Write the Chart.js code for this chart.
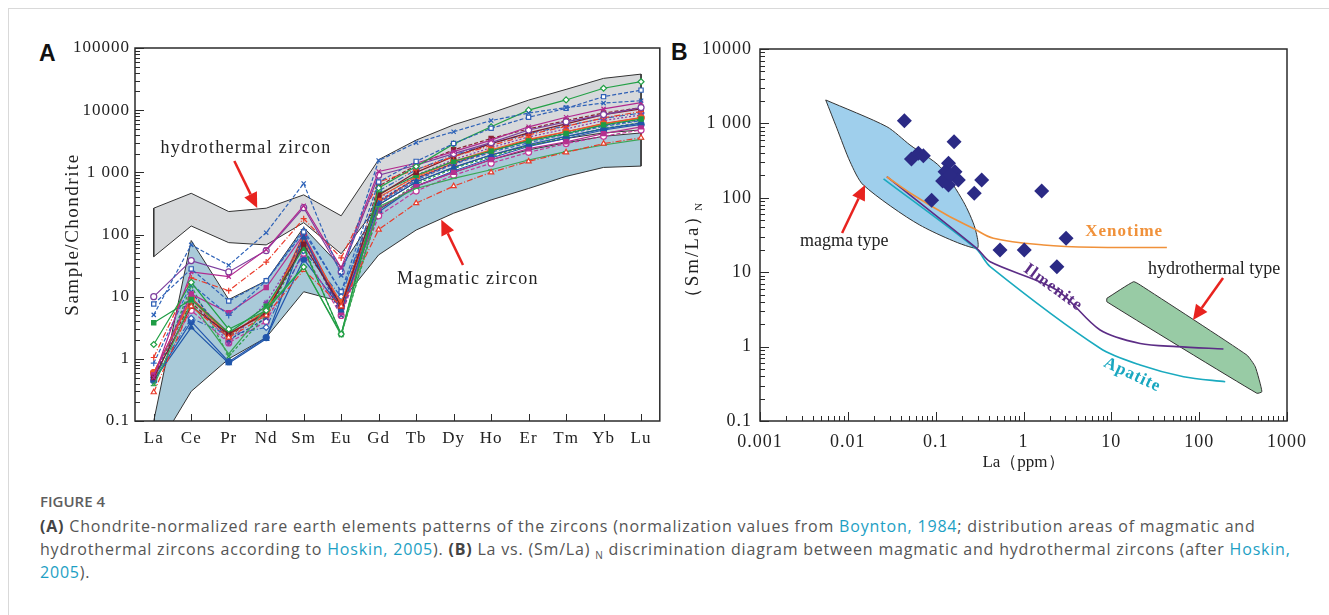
<!DOCTYPE html>
<html>
<head>
<meta charset="utf-8">
<script src="https://cdn.jsdelivr.net/npm/chart.js@4.4.1/dist/chart.umd.min.js"></script>
<style>
  body { margin: 0; width: 1329px; height: 615px; background: #fff; position: relative; overflow: hidden; }
  #frame { position: absolute; left: 8px; top: 8px; right: -2px; bottom: -2px; border-top: 1px solid #d9d9d9; border-left: 1px solid #d9d9d9; }
  #chartA { position: absolute; left: 20px; top: 30px; }
  #chartB { position: absolute; left: 665px; top: 30px; }
  .panel { position: absolute; font-family: 'Liberation Sans', Arial, sans-serif; font-weight: bold; font-size: 23px; color: #111; }
  #caption { position: absolute; left: 40px; top: 491px; font-family: 'Open Sans', sans-serif; color: #555; white-space: nowrap; }
  #caption .fig { font-size: 15px; font-weight: 600; color: #5e5e5e; margin-bottom: 4px; }
  #caption p { margin: 0; font-size: 16px; line-height: 23px; letter-spacing: 0.8px; }
  #caption b { color: #444; }
  #caption a { color: #1d9fc4; text-decoration: none; }
  #caption sub { font-size: 10px; vertical-align: baseline; position: relative; top: 4px; line-height: 0; }
</style>
</head>
<body>
<div id="frame"></div>
<div class="panel" style="left:39px; top:40px;">A</div>
<div class="panel" style="left:671px; top:39px;">B</div>
<canvas id="chartA" width="645" height="440"></canvas>
<canvas id="chartB" width="650" height="445"></canvas>
<div id="caption">
  <div class="fig">FIGURE 4</div>
  <p><b>(A)</b> Chondrite-normalized rare earth elements patterns of the zircons (normalization values from <a>Boynton, 1984</a>; distribution areas of magmatic and<br>hydrothermal zircons according to <a>Hoskin, 2005</a>). <b>(B)</b> La vs. (Sm/La) <sub>N</sub> discrimination diagram between magmatic and hydrothermal zircons (after <a>Hoskin,</a><br><a>2005</a>).</p>
</div>
<script>
'use strict';

// ---- panel A data (chondrite normalized REE) ----
const elements = ['La', 'Ce', 'Pr', 'Nd', 'Sm', 'Eu', 'Gd', 'Tb', 'Dy', 'Ho', 'Er', 'Tm', 'Yb', 'Lu'];

const hydroUpper = [265, 460, 234, 265, 434, 200, 1600, 3300, 5800, 9000, 14500, 21600, 32500, 38000];
const hydroLower = [44, 137, 74, 68, 155, 49, 300, 700, 1200, 1900, 2700, 3500, 4300, 4800];
const magmaUpper = [0.1, 80, 9, 18, 130, 30, 250, 600, 1000, 1600, 2300, 3000, 3800, 4300];
const magmaLower = [0.03, 0.3, 1.0, 2.2, 12, 8.3, 47, 118, 220, 360, 550, 860, 1200, 1260];

const zr01 = [5.1, 68, 32, 107, 660, 22, 1550, 3000, 4500, 6800, 9000, 11000, 13000, 14200];
const zr02 = [7.6, 28, 8.5, 18, 110, 12, 700, 1500, 2900, 5100, 7700, 10700, 16500, 21000];
const zr03 = [1.7, 17, 3, 6, 30, 2.5, 560, 1240, 2870, 5400, 10000, 14600, 22500, 28700];
const zr04 = [0.5, 25, 21, 57, 290, 29, 1030, 1400, 2150, 3300, 5400, 7700, 10500, 13200];
const zr05 = [10, 38, 25, 55, 270, 25, 900, 1300, 2000, 3000, 4800, 6500, 8500, 11000];
const zr06 = [1.05, 20, 12.5, 36, 180, 42, 700, 1100, 1800, 2700, 4000, 5500, 7500, 9500];
const zr07 = [0.29, 7, 2.2, 5, 27, 7, 120, 320, 600, 1000, 1500, 2100, 2900, 3600];
const zr08 = [0.37, 8, 1.2, 6.5, 30, 2.4, 280, 550, 800, 1100, 1580, 2150, 2750, 3400];
const zr09 = [0.5, 7, 2.5, 5.5, 70, 7, 430, 1000, 1800, 2900, 4300, 6000, 8500, 10500];
const zr10 = [3.8, 9, 2.6, 7, 60, 2.5, 450, 900, 1500, 2200, 3200, 4200, 5800, 7200];
const zr11 = [0.45, 3.2, 0.85, 2.1, 90, 6, 300, 700, 1200, 1900, 2800, 3800, 5000, 6200];
const zr12 = [0.85, 16, 5, 18, 120, 12, 320, 750, 1350, 2100, 3000, 4100, 5500, 6800];
const zr13 = [0.55, 11, 5.5, 14, 100, 5.5, 260, 600, 1000, 1600, 2400, 3100, 4200, 5400];
const zr14 = [0.6, 9, 2.4, 6, 80, 8, 400, 850, 1500, 2300, 3400, 4500, 6000, 7500];
const zr15 = [0.5, 12, 2, 4.5, 95, 5, 350, 800, 1400, 2200, 3200, 4300, 5700, 7000];
const zr16 = [0.4, 15, 1.1, 5, 65, 2.4, 250, 650, 1150, 1800, 2700, 3700, 5100, 6300];
const zr17 = [0.45, 10, 1.8, 8, 75, 7.5, 380, 900, 1600, 2500, 3700, 5000, 6800, 8400];
const zr18 = [0.5, 4.5, 2.4, 3.2, 55, 10, 500, 1100, 1900, 2900, 4200, 5600, 7400, 9000];
const zr19 = [0.55, 6, 1.8, 4, 50, 5, 200, 500, 900, 1400, 2100, 2900, 3800, 4800];
const zr20 = [0.6, 8, 2.3, 6, 85, 7, 600, 1300, 2300, 3500, 5000, 6800, 9000, 11000];
const zr21 = [0.6, 9.5, 2.6, 5.2, 100, 7, 330, 800, 1400, 2200, 3300, 4500, 6100, 7600];
const zr22 = [0.45, 4, 0.9, 2.2, 40, 6.5, 230, 600, 1050, 1700, 2600, 3500, 4800, 5900];

const samples = [zr01, zr02, zr03, zr04, zr05, zr06, zr07, zr08, zr09, zr10, zr11,
  zr12, zr13, zr14, zr15, zr16, zr17, zr18, zr19, zr20, zr21, zr22];

const yTickValsA = [0.1, 1, 10, 100, 1000, 10000, 100000];
const yTickLabelsA = ['0.1', '1', '10', '100', '1 000', '10000', '100000'];

// ---- panel B data ----
const zirconLa = [0.044, 0.162, 0.053, 0.0636, 0.0724, 0.14, 0.128, 0.166, 0.12, 0.14, 0.181, 0.334, 0.275, 0.09, 1.61, 3.05, 0.54, 1.02, 2.4, 0.146];
const zirconSmLa = [1088, 568, 333, 398, 368, 291, 224, 224, 168, 149, 173, 173, 115, 93, 123, 28.5, 19.9, 19.9, 11.8, 202];

const magmaLa = [0.0056, 0.0278, 0.051, 0.112, 0.207, 0.281, 0.294, 0.066, 0.015, 0.0106, 0.0075, 0.0056];
const magmaSmLa = [2065, 903, 513, 262, 88.7, 38.9, 20.9, 43, 148.6, 305, 860, 2065];

const hydroLa = [8.9, 17.9, 21.3, 349, 435, 518, 454, 8.9, 8.9];
const hydroSmLa = [4.46, 7.45, 6.73, 0.77, 0.537, 0.248, 0.236, 4.0, 4.46];

const xenotimeLa = [0.0278, 0.0557, 0.134, 0.267, 0.454, 1.69, 6.25, 42.9];
const xenotimeSmLa = [192, 109, 58.7, 38.9, 28.6, 23.2, 21.6, 21.5];

const ilmeniteLa = [0.0278, 0.294, 0.417, 2.39, 7.45, 21.3, 55.7, 189];
const ilmeniteSmLa = [192, 20.9, 13.8, 5.77, 1.67, 1.1, 1.0, 0.93];

const apatiteLa = [0.0255, 0.29, 0.417, 7.45, 21.3, 66.4, 198];
const apatiteSmLa = [180, 20.5, 11.9, 0.95, 0.566, 0.394, 0.337];

const yTickValsB = [0.1, 1, 10, 100, 1000, 10000];
const yTickLabelsB = ['0.1', '1', '10', '100', '1 000', '10000'];
const xTickValsB = [0.001, 0.01, 0.1, 1, 10, 100, 1000];
const xTickLabelsB = ['0.001', '0.01', '0.1', '1', '10', '100', '1000'];

// ---- styles ----
const serif = "'Liberation Serif', 'Times New Roman', serif";
const axisColor = '#2b2b2b';
const arrowRed = '#e8231f';

const sampleStyles = [
  {color: '#2d62b8', dash: [4, 2], marker: 'crossRot', open: false},
  {color: '#2f5fb5', dash: [4, 2], marker: 'rect', open: true},
  {color: '#23a046', dash: [], marker: 'rectRot', open: true},
  {color: '#b2298f', dash: [], marker: 'crossRot', open: false},
  {color: '#7d3f9e', dash: [], marker: 'circle', open: true},
  {color: '#ea3b2b', dash: [6, 2, 1, 2], marker: 'cross', open: false},
  {color: '#ea3b2b', dash: [6, 2, 1, 2], marker: 'triangle', open: true},
  {color: '#3aa655', dash: [], marker: 'line', open: false},
  {color: '#7b1c2e', dash: [], marker: 'rect', open: false},
  {color: '#1f9c45', dash: [], marker: 'rect', open: false},
  {color: '#1f56a8', dash: [], marker: 'triangle', open: false},
  {color: '#3066c0', dash: [4, 2], marker: 'cross', open: false},
  {color: '#b5308f', dash: [], marker: 'rect', open: false},
  {color: '#f15a24', dash: [], marker: 'circle', open: false},
  {color: '#2a4b9b', dash: [3, 2], marker: 'crossRot', open: false},
  {color: '#2aa048', dash: [3, 2], marker: 'crossRot', open: false},
  {color: '#8a3aa8', dash: [2, 2], marker: 'star', open: false},
  {color: '#2f64b8', dash: [6, 2, 1, 2], marker: 'rectRot', open: true},
  {color: '#c0399a', dash: [4, 2], marker: 'circle', open: true},
  {color: '#8b2233', dash: [4, 2], marker: 'rect', open: false},
  {color: '#e2332a', dash: [], marker: 'circle', open: false},
  {color: '#2356ae', dash: [], marker: 'circle', open: false}
];

const notesA = [
  {text: 'hydrothermal zircon', x: 2.46, y: 2440},
  {text: 'Magmatic zircon', x: 8.38, y: 19.1}
];
const arrowsA = [
  {x0: 2.15, y0: 1524, x1: 2.76, y1: 268},
  {x0: 8.25, y0: 32.4, x1: 7.67, y1: 172}
];

const notesB = [
  {text: 'magma type', x: 0.0091, y: 26.3, color: '#222', bold: false, rot: 0},
  {text: 'hydrothermal type', x: 148, y: 11, color: '#222', bold: false, rot: 0},
  {text: 'Xenotime', x: 14, y: 34.7, color: '#f0913a', bold: true, rot: 0},
  {text: 'Ilmenite', x: 2.17, y: 6.2, color: '#5c2d86', bold: true, rot: 36},
  {text: 'Apatite', x: 17.3, y: 0.416, color: '#19a7c0', bold: true, rot: 25}
];
const arrowsB = [
  {x0: 0.0086, y0: 33.6, x1: 0.0157, y1: 148.6},
  {x0: 187, y0: 8.36, x1: 85, y1: 2.27}
];

// ---- helpers ----
function logTicks(scale) {
  const list = [];
  const lo = Math.round(Math.log10(scale.min));
  const hi = Math.round(Math.log10(scale.max));
  for (let e = lo; e < hi; e++) {
    for (let m = 1; m < 10; m++) {
      list.push({value: m * Math.pow(10, e)});
    }
  }
  list.push({value: Math.pow(10, hi)});
  scale.ticks = list;
}

function tickLabel(vals, labels) {
  return function (value) {
    const i = vals.findIndex(v => Math.abs(v / value - 1) < 1e-6);
    return i >= 0 ? labels[i] : '';
  };
}

function isMajor(v) {
  const l = Math.log10(v);
  return Math.abs(l - Math.round(l)) < 1e-6;
}

function drawBox(ctx, a) {
  ctx.strokeStyle = axisColor;
  ctx.lineWidth = 1.5;
  ctx.strokeRect(a.left, a.top, a.right - a.left, a.bottom - a.top);
}

function drawLogTicks(ctx, scale, a, horizontal) {
  ctx.strokeStyle = axisColor;
  ctx.lineWidth = 1;
  ctx.beginPath();
  for (const t of scale.ticks) {
    const p = Math.round(scale.getPixelForValue(t.value)) + 0.5;
    const len = isMajor(t.value) ? 9 : 5;
    if (horizontal) {
      ctx.moveTo(p, a.bottom);
      ctx.lineTo(p, a.bottom - len);
    } else {
      ctx.moveTo(a.left, p);
      ctx.lineTo(a.left + len, p);
    }
  }
  ctx.stroke();
}

function drawArrow(ctx, x0, y0, x1, y1) {
  const ang = Math.atan2(y1 - y0, x1 - x0);
  const head = 15, half = 7;
  const bx = x1 - head * Math.cos(ang);
  const by = y1 - head * Math.sin(ang);
  ctx.strokeStyle = arrowRed;
  ctx.fillStyle = arrowRed;
  ctx.lineWidth = 2.5;
  ctx.beginPath();
  ctx.moveTo(x0, y0);
  ctx.lineTo(bx, by);
  ctx.stroke();
  ctx.beginPath();
  ctx.moveTo(x1, y1);
  ctx.lineTo(bx + half * Math.sin(ang), by - half * Math.cos(ang));
  ctx.lineTo(bx - half * Math.sin(ang), by + half * Math.cos(ang));
  ctx.closePath();
  ctx.fill();
}

// ---- panel A ----
const decorA = {
  id: 'decorA',
  beforeDraw(chart) {
    chart.ctx.letterSpacing = '1px';
  },
  afterDraw(chart) {
    const {ctx, chartArea: a, scales} = chart;
    ctx.save();
    drawBox(ctx, a);
    drawLogTicks(ctx, scales.y, a, false);
    ctx.beginPath();
    elements.forEach((el, i) => {
      const x = Math.round(scales.x.getPixelForValue(i)) + 0.5;
      ctx.moveTo(x, a.bottom);
      ctx.lineTo(x, a.bottom - 7);
    });
    ctx.stroke();

    ctx.fillStyle = '#222';
    ctx.textAlign = 'center';
    ctx.textBaseline = 'middle';
    ctx.letterSpacing = '1.3px';
    ctx.font = '18px ' + serif;
    for (const n of notesA) {
      ctx.fillText(n.text, scales.x.getPixelForValue(n.x), scales.y.getPixelForValue(n.y));
    }
    for (const r of arrowsA) {
      drawArrow(ctx, scales.x.getPixelForValue(r.x0), scales.y.getPixelForValue(r.y0),
        scales.x.getPixelForValue(r.x1), scales.y.getPixelForValue(r.y1));
    }

    // y title
    ctx.fillStyle = '#222';
    ctx.font = '19px ' + serif;
    ctx.letterSpacing = '1.5px';
    ctx.translate(a.left - 62, (a.top + a.bottom) / 2);
    ctx.rotate(-Math.PI / 2);
    ctx.fillText('Sample/Chondrite', 0, 0);
    ctx.restore();
  }
};

const sampleSets = samples.map((vals, i) => {
  const st = sampleStyles[i % sampleStyles.length];
  return {
    data: vals,
    borderColor: st.color,
    borderWidth: 1.2,
    borderDash: st.dash,
    pointStyle: st.marker,
    pointRadius: 3,
    pointBorderWidth: 1.2,
    pointBorderColor: st.color,
    pointBackgroundColor: st.open ? '#ffffff' : st.color,
    fill: false
  };
});

function bandLine(data, fillIdx, bg) {
  return {
    data: data,
    borderColor: '#333',
    borderWidth: 1,
    pointRadius: 0,
    fill: fillIdx === null ? false : fillIdx,
    backgroundColor: bg || 'transparent'
  };
}

const nA = sampleSets.length;
const datasetsA = sampleSets.concat([
  bandLine([{x: 'La', y: hydroUpper[0]}, {x: 'La', y: hydroLower[0]}], null),
  bandLine([{x: 'Lu', y: hydroUpper[13]}, {x: 'Lu', y: hydroLower[13]}], null),
  bandLine([{x: 'Lu', y: magmaUpper[13]}, {x: 'Lu', y: magmaLower[13]}], null),
  bandLine(magmaLower, null),
  bandLine(magmaUpper, nA + 3, '#a9cad9'),
  bandLine(hydroLower, null),
  bandLine(hydroUpper, nA + 5, '#d7d9db')
]);

new Chart(document.getElementById('chartA'), {
  type: 'line',
  data: {labels: elements, datasets: datasetsA},
  options: {
    responsive: false,
    animation: false,
    layout: {padding: {top: 18, right: 3, left: 0, bottom: 0}},
    plugins: {legend: {display: false}, tooltip: {enabled: false}},
    scales: {
      x: {
        type: 'category',
        offset: true,
        grid: {display: false, drawTicks: false},
        border: {display: false},
        ticks: {font: {family: serif, size: 17}, color: '#222', padding: 7, autoSkip: false, maxRotation: 0},
        afterFit: s => { s.height = 49; }
      },
      y: {
        type: 'logarithmic',
        min: 0.1,
        max: 100000,
        grid: {display: false, drawTicks: false},
        border: {display: false},
        afterBuildTicks: logTicks,
        ticks: {font: {family: serif, size: 17}, color: '#222', padding: 5, autoSkip: false,
          callback: tickLabel(yTickValsA, yTickLabelsA)},
        afterFit: s => { s.width = 115; }
      }
    }
  },
  plugins: [decorA]
});

// ---- panel B ----
const decorB = {
  id: 'decorB',
  beforeDraw(chart) {
    chart.ctx.letterSpacing = '1px';
  },
  afterDraw(chart) {
    const {ctx, chartArea: a, scales} = chart;
    ctx.save();
    drawBox(ctx, a);
    drawLogTicks(ctx, scales.y, a, false);
    drawLogTicks(ctx, scales.x, a, true);

    ctx.textAlign = 'center';
    ctx.textBaseline = 'middle';
    ctx.letterSpacing = '0px';
    for (const n of notesB) {
      ctx.save();
      ctx.fillStyle = n.color;
      ctx.font = (n.bold ? 'bold 17px ' : '18px ') + serif;
      ctx.letterSpacing = n.bold ? '1px' : '0px';
      ctx.translate(scales.x.getPixelForValue(n.x), scales.y.getPixelForValue(n.y));
      ctx.rotate(n.rot * Math.PI / 180);
      ctx.fillText(n.text, 0, 0);
      ctx.restore();
    }
    for (const r of arrowsB) {
      drawArrow(ctx, scales.x.getPixelForValue(r.x0), scales.y.getPixelForValue(r.y0),
        scales.x.getPixelForValue(r.x1), scales.y.getPixelForValue(r.y1));
    }

    // axis titles
    ctx.fillStyle = '#222';
    ctx.font = '17px ' + serif;
    ctx.fillText('La（ppm）', (a.left + a.right) / 2, a.bottom + 42);
    ctx.translate(a.left - 67, 226);
    ctx.rotate(-Math.PI / 2);
    ctx.font = '19px ' + serif;
    ctx.letterSpacing = '2px';
    const w = ctx.measureText('（Sm/La）').width;
    ctx.fillText('（Sm/La）', 0, 0);
    ctx.font = '11px ' + serif;
    ctx.letterSpacing = '0px';
    ctx.fillText('N', w / 2 - 2, 6);
    ctx.restore();
  }
};

const zirconPts = zirconLa.map((x, i) => ({x: x, y: zirconSmLa[i]}));
const toPts = (xs, ys) => xs.map((x, i) => ({x: x, y: ys[i]}));

new Chart(document.getElementById('chartB'), {
  type: 'scatter',
  data: {
    datasets: [
      {data: zirconPts, pointStyle: 'rectRot', pointRadius: 7.5, backgroundColor: '#2b2a85', borderColor: '#2b2a85', borderWidth: 0},
      {data: toPts(xenotimeLa, xenotimeSmLa), showLine: true, pointRadius: 0, borderColor: '#f0913a', borderWidth: 1.6, tension: 0.35},
      {data: toPts(ilmeniteLa, ilmeniteSmLa), showLine: true, pointRadius: 0, borderColor: '#5c2d86', borderWidth: 1.6, tension: 0.3},
      {data: toPts(apatiteLa, apatiteSmLa), showLine: true, pointRadius: 0, borderColor: '#1aaabf', borderWidth: 1.6, tension: 0.3},
      {data: toPts(hydroLa, hydroSmLa), showLine: true, pointRadius: 0, borderColor: '#333', borderWidth: 1, backgroundColor: '#98cba5', fill: 'shape', tension: 0.15},
      {data: toPts(magmaLa, magmaSmLa), showLine: true, pointRadius: 0, borderColor: '#333', borderWidth: 1, backgroundColor: '#9fcfec', fill: 'shape', tension: 0.25}
    ]
  },
  options: {
    responsive: false,
    animation: false,
    layout: {padding: {top: 19, right: 27, left: 0, bottom: 0}},
    plugins: {legend: {display: false}, tooltip: {enabled: false}},
    scales: {
      x: {
        type: 'logarithmic',
        min: 0.001,
        max: 1000,
        grid: {display: false, drawTicks: false},
        border: {display: false},
        afterBuildTicks: logTicks,
        ticks: {font: {family: serif, size: 18}, color: '#222', padding: 10, autoSkip: false, maxRotation: 0,
          callback: tickLabel(xTickValsB, xTickLabelsB)},
        afterFit: s => { s.height = 54; }
      },
      y: {
        type: 'logarithmic',
        min: 0.1,
        max: 10000,
        grid: {display: false, drawTicks: false},
        border: {display: false},
        afterBuildTicks: logTicks,
        ticks: {font: {family: serif, size: 18}, color: '#222', padding: 8, autoSkip: false,
          callback: tickLabel(yTickValsB, yTickLabelsB)},
        afterFit: s => { s.width = 95; }
      }
    }
  },
  plugins: [decorB]
});
</script>
</body>
</html>
